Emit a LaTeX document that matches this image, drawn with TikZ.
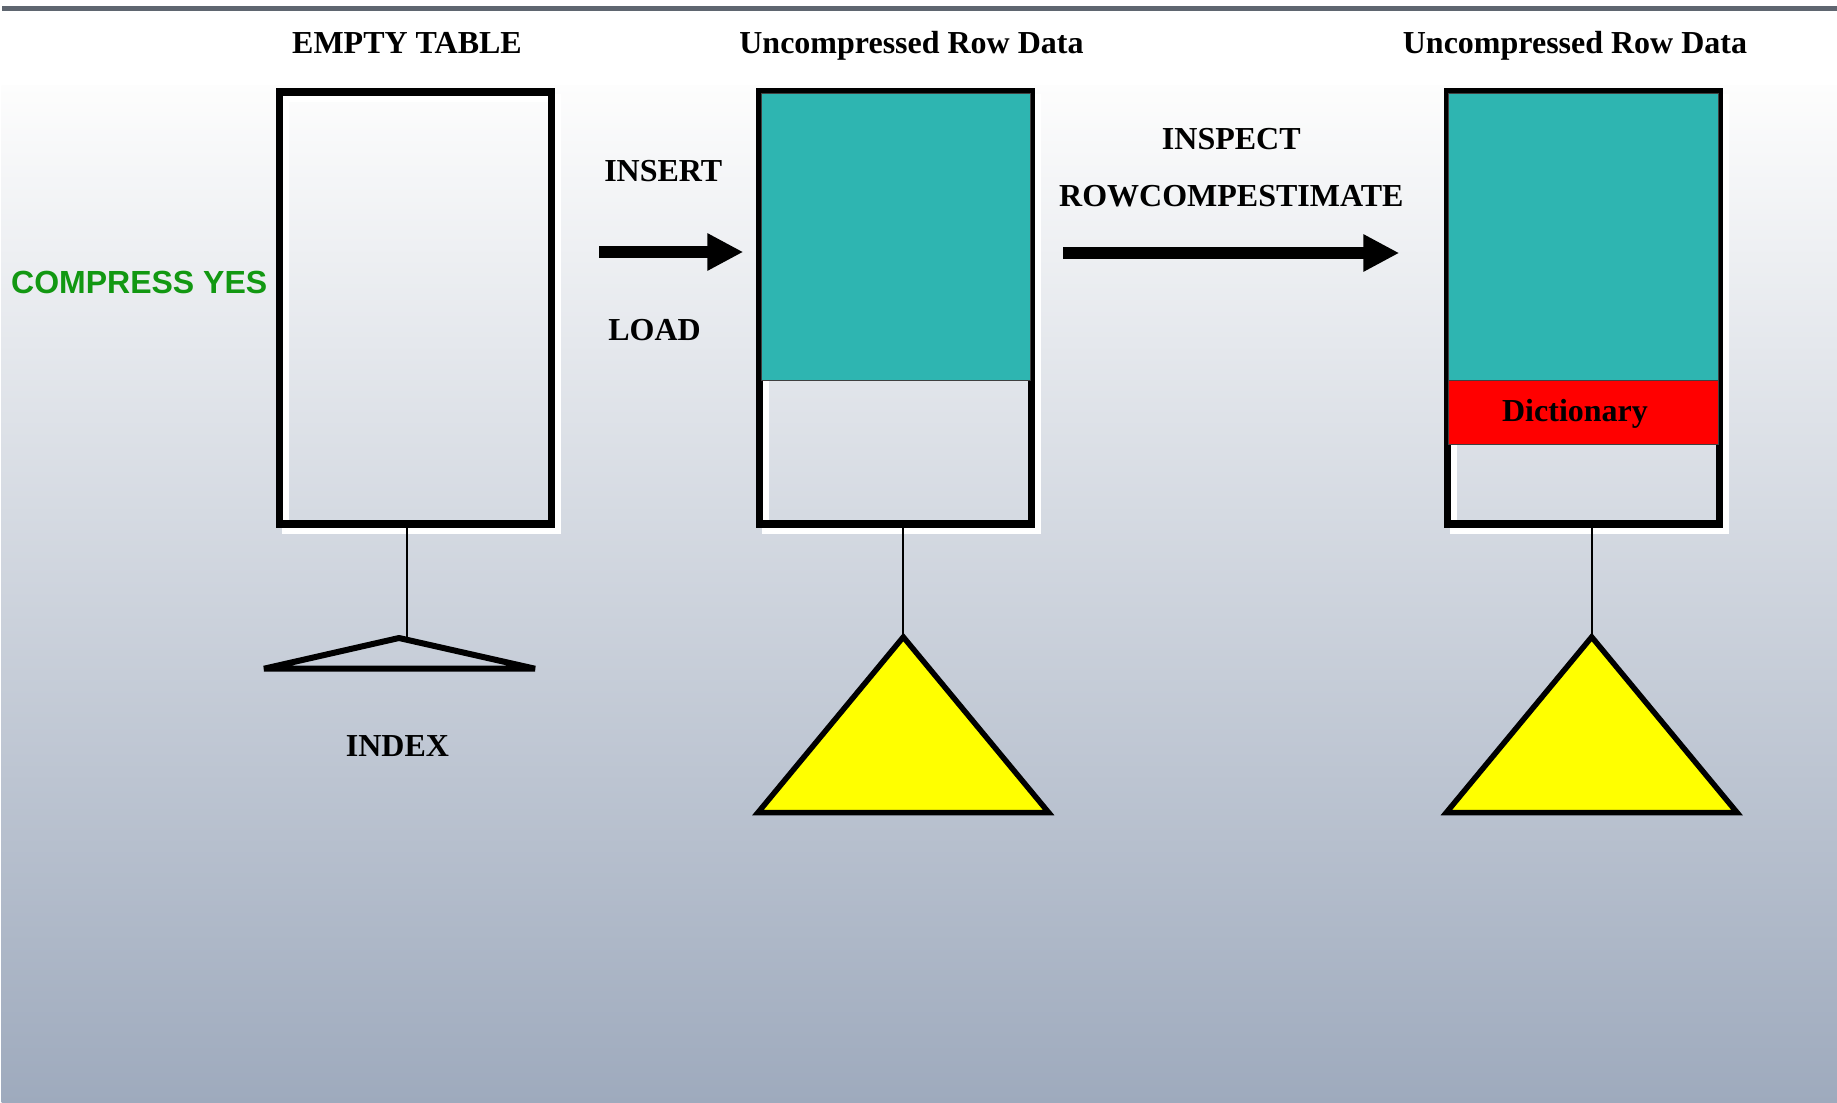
\documentclass[tikz,border=0pt]{standalone}
\usepackage{fontspec}
\setmainfont{Liberation Serif}
\setsansfont{Liberation Sans}
\usetikzlibrary{arrows.meta}
\definecolor{tealfill}{RGB}{46,181,177}
\definecolor{bgbottom}{RGB}{158,170,189}
\definecolor{bgtop}{RGB}{253,253,253}
\definecolor{topbar}{RGB}{95,102,112}
\definecolor{compgreen}{RGB}{18,152,18}
\definecolor{idxyellow}{RGB}{255,255,0}
\tikzset{
  lbl/.style={inner sep=0pt, outer sep=0pt, anchor=base, font=\fontsize{32}{38}\selectfont\bfseries},
  greenlbl/.style={inner sep=0pt, outer sep=0pt, anchor=base, text=compgreen, font=\fontsize{32}{38}\selectfont\sffamily\bfseries},
  tablebox/.style={draw=black, line width=7.5pt, minimum width=272pt, minimum height=432pt, inner sep=0pt, outer sep=0pt},
  boxshadow/.style={draw=white, line width=7.5pt},
  datafill/.style={fill=tealfill, draw=black!75, line width=1pt},
  dictfill/.style={fill=red, draw=black!75, line width=1pt},
  stem/.style={draw=black, line width=1.8pt},
  idxtri/.style={draw=black, fill=idxyellow, line width=5.5pt, line join=miter},
  flattri/.style={draw=black, line width=6pt, line join=bevel},
  bigarrow/.style={draw=black, line width=12pt, -{Triangle[length=36pt,width=35pt]}}
}
\begin{document}
\begin{tikzpicture}[x=1pt,y=-1pt]
\useasboundingbox (0,0) rectangle (1837,1103);
% background
\fill[white] (0,0) rectangle (1837,1103);
\shade[top color=bgtop, bottom color=bgbottom] (1.5,85) rectangle (1837,1103);
\fill[topbar] (2,5.5) rectangle (1837,10.5);

% shadows (white outlines offset down-right)
\draw[boxshadow] (285.4,98) rectangle (557.4,530);
\draw[boxshadow] (765.25,98) rectangle (1037.25,530);
\draw[boxshadow] (1453.25,98) rectangle (1725.25,530);

% stem end points
\coordinate (apex1) at (407.3,638);
\coordinate (apex2) at (903.3,637);
\coordinate (apex3) at (1591.7,637);

% table boxes
\node[tablebox] (t1) at (415.4,308) {};
\node[tablebox] (t2) at (895.25,308) {};
\node[tablebox] (t3) at (1583.25,308) {};

\draw[stem] (apex1 |- t1.south) -- (apex1);
\draw[stem] (apex2 |- t2.south) -- (apex2);
\draw[stem] (apex3 |- t3.south) -- (apex3);

% data fills
\draw[datafill] (761,93) rectangle (1030,380);
\draw[datafill] (1448.3,93) rectangle (1718,380);
\draw[dictfill] (1448.3,380.5) rectangle (1718,444);
\node[lbl] (dict) at (1575,421) {Dictionary};

% indexes
\draw[flattri] (399,638) -- (535,668.7) -- (264,668.7) -- cycle;
\draw[idxtri] (apex2) -- ++(145.3,175.5) -- ++(-290.6,0) -- cycle;
\draw[idxtri] (apex3) -- ++(145.3,175.5) -- ++(-290.6,0) -- cycle;

% arrows
\coordinate (a1s) at (599.3,252);
\coordinate (a1e) at (743.3,252);
\coordinate (a2s) at (1063.3,253);
\coordinate (a2e) at (1399.3,253);
\draw[bigarrow] (a1s) -- (a1e);
\draw[bigarrow] (a2s) -- (a2e);

% labels
\node[lbl] (h1) at (407,53.3) {EMPTY TABLE};
\node[lbl] (h2) at (911.5,53.3) {Uncompressed Row Data};
\node[lbl] (h3) at (1575,53.3) {Uncompressed Row Data};
\node[lbl] (ins) at (663.3,181.7) {INSERT};
\node[lbl] (load) at (654.5,340.7) {LOAD};
\node[lbl] (insp) at (1231.3,149.3) {INSPECT};
\node[lbl] (rce) at (1231.3,206.7) {ROWCOMPESTIMATE};
\node[lbl] (idx) at (397.5,756.7) {INDEX};
\node[greenlbl] (cy) at (139.2,293.3) {COMPRESS YES};
\end{tikzpicture}
\end{document}
